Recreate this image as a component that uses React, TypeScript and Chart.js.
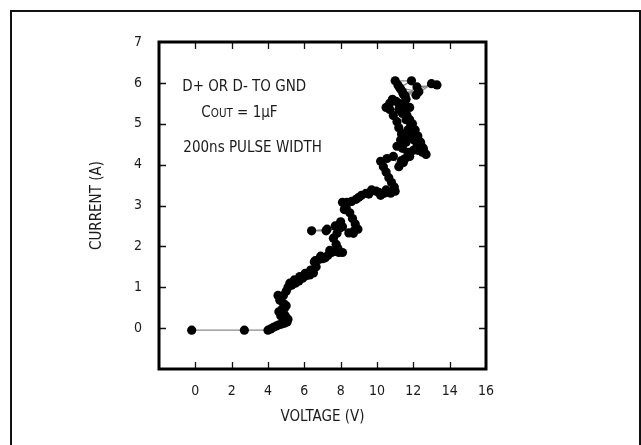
import React, { useEffect, useRef } from "react";
import { Chart, registerables } from "chart.js";

Chart.register(...registerables);

// Measured points (VOLTAGE in V, CURRENT in A), in trace order
const voltage: number[] = [
  -0.2, 2.7, 4.0, 4.15, 4.3, 4.45, 4.6, 4.75, 4.9, 5.05,
  5.1, 4.95, 4.85, 4.7, 4.6, 4.75, 4.9, 5.0, 4.85, 4.65,
  4.55, 4.7, 4.85, 5.0, 5.1, 5.3, 5.5, 5.7, 5.9, 6.1,
  6.3, 6.5, 6.65, 6.6, 6.8, 7.0, 7.15, 7.3, 7.5, 7.7,
  7.9, 8.1, 7.75, 7.6, 7.8, 7.95, 7.2, 6.4, 7.25, 7.7,
  8.1, 8.45, 8.75, 8.95, 8.8, 8.65, 8.5, 8.3, 8.1, 8.35,
  8.6, 8.85, 9.15, 9.4, 9.7, 9.95, 10.2, 10.5, 10.75, 10.95,
  10.8, 10.65, 10.5, 10.35, 10.2, 10.55, 10.9, 11.2, 11.35, 11.55,
  11.8, 12.0, 12.25, 12.5, 12.7, 12.55, 12.4, 12.25, 12.1, 11.95,
  11.8, 11.65, 11.5, 11.35, 11.2, 11.05, 10.85, 10.7, 10.5, 10.7,
  10.9, 11.1, 11.2, 11.35, 11.3, 11.1, 11.4, 11.6, 11.5, 11.7,
  11.85, 12.05, 12.2, 12.4, 12.6, 12.35, 12.1, 11.85, 11.6, 11.4,
  11.2, 11.5, 11.8, 11.6, 11.45, 11.3, 11.15, 11.0, 11.9, 11.25,
  12.3, 11.4, 12.15, 13.0, 11.55, 12.2, 13.3,
  5.2, 5.45, 5.75, 6.05, 6.35, 6.55, 6.9, 7.4, 7.85, 8.0,
  8.2, 8.7, 9.0, 9.55, 10.1, 10.4, 11.0, 11.45, 11.7, 12.45,
];
const current: number[] = [
  -0.05, -0.05, -0.05, -0.02, 0.02, 0.05, 0.08, 0.1, 0.12, 0.15,
  0.22, 0.3, 0.2, 0.3, 0.4, 0.45, 0.48, 0.55, 0.6, 0.68,
  0.8, 0.75, 0.8, 0.9, 1.0, 1.05, 1.1, 1.15, 1.22, 1.28,
  1.3, 1.35, 1.5, 1.65, 1.68, 1.7, 1.72, 1.78, 1.85, 1.88,
  1.85, 1.85, 2.05, 2.2, 2.32, 2.45, 2.38, 2.38, 2.42, 2.5,
  2.48, 2.33, 2.38, 2.42, 2.55, 2.68, 2.82, 2.96, 3.08, 3.08,
  3.1, 3.15, 3.25, 3.3, 3.38, 3.35, 3.25, 3.38, 3.3, 3.45,
  3.56, 3.68, 3.82, 3.95, 4.08, 4.15, 4.2, 3.95, 4.1, 4.15,
  4.2, 4.35, 4.35, 4.3, 4.25, 4.4, 4.55, 4.7, 4.85, 5.0,
  5.1, 5.2, 5.3, 5.4, 5.5, 5.55, 5.6, 5.5, 5.4, 5.35,
  5.2, 5.05, 4.9, 4.75, 4.6, 4.45, 4.4, 4.55, 4.75, 4.85,
  4.65, 4.6, 4.45, 4.35, 4.3, 4.5, 4.75, 4.95, 5.1, 5.25,
  5.35, 5.45, 5.4, 5.6, 5.72, 5.85, 5.95, 6.05, 6.05, 5.88,
  5.78, 5.78, 5.7, 5.98, 5.68, 5.9, 5.95,
  1.1, 1.18, 1.26, 1.34, 1.42, 1.62, 1.76, 1.9, 1.95, 2.6,
  2.9, 2.32, 3.2, 3.28, 3.32, 3.3, 3.35, 4.05, 4.3, 4.45,
];

const xTickValues: number[] = [0, 2, 4, 6, 8, 10, 12, 14, 16];
const yTickValues: number[] = [0, 1, 2, 3, 4, 5, 6, 7];
const xTitle = "VOLTAGE (V)";
const yTitle = "CURRENT (A)";
const noteLine1 = "D+ OR D- TO GND";
const noteCout = ["C", "OUT", " = 1\u03BCF"];
const noteLine3 = "200ns PULSE WIDTH";

const FONT = "'Liberation Sans Narrow', 'DejaVu Sans Condensed', 'Arial Narrow', sans-serif";
const INK = "#1a1a1a";

const framePlugin = {
  id: "frame",
  beforeDraw(chart: any) {
    const { ctx } = chart;
    ctx.save();
    ctx.fillStyle = "#ffffff";
    ctx.fillRect(0, 0, chart.width, chart.height);
    ctx.strokeStyle = "#111";
    ctx.lineWidth = 2;
    ctx.strokeRect(11, 11, chart.width - 12, chart.height + 20);
    ctx.restore();
  },
  afterDraw(chart: any) {
    const { ctx, chartArea: a, scales } = chart;
    const xs = scales.x;
    const ys = scales.y;
    ctx.save();
    // inner ticks
    ctx.strokeStyle = "#111";
    ctx.lineWidth = 1.3;
    ctx.beginPath();
    xTickValues.forEach((v) => {
      if (v <= xs.min || v >= xs.max) return;
      const px = Math.round(xs.getPixelForValue(v)) + 0.5;
      ctx.moveTo(px, a.top);
      ctx.lineTo(px, a.top + 7);
      ctx.moveTo(px, a.bottom);
      ctx.lineTo(px, a.bottom - 7);
    });
    yTickValues.forEach((v) => {
      if (v <= ys.min || v >= ys.max) return;
      const py = Math.round(ys.getPixelForValue(v)) + 0.5;
      ctx.moveTo(a.left, py);
      ctx.lineTo(a.left + 7, py);
      ctx.moveTo(a.right, py);
      ctx.lineTo(a.right - 7, py);
    });
    ctx.stroke();
    // plot box
    ctx.strokeStyle = "#000";
    ctx.lineWidth = 3;
    ctx.strokeRect(a.left, a.top, a.right - a.left, a.bottom - a.top);

    // annotations
    ctx.fillStyle = INK;
    ctx.textBaseline = "middle";
    ctx.textAlign = "left";
    ctx.font = `15px ${FONT}`;
    ctx.fillText(noteLine1, xs.getPixelForValue(-0.72), ys.getPixelForValue(5.9));
    ctx.fillText(noteLine3, xs.getPixelForValue(-0.66), ys.getPixelForValue(4.41));
    // C_OUT = 1uF
    ctx.textBaseline = "alphabetic";
    let cx = xs.getPixelForValue(0.33);
    const cy = ys.getPixelForValue(5.3) + 5.5;
    ctx.font = `15px ${FONT}`;
    ctx.fillText(noteCout[0], cx, cy);
    cx += ctx.measureText(noteCout[0]).width;
    ctx.font = `11.5px ${FONT}`;
    ctx.fillText(noteCout[1], cx, cy);
    cx += ctx.measureText(noteCout[1]).width;
    ctx.font = `15px ${FONT}`;
    ctx.fillText(noteCout[2], cx, cy);
    ctx.restore();
  },
};

export default function App() {
  const canvasRef = useRef<HTMLCanvasElement | null>(null);

  useEffect(() => {
    if (!canvasRef.current) return;
    const mainCount = 137;
    const trace = voltage.slice(0, mainCount).map((v, i) => ({ x: v, y: current[i] }));
    const extra = voltage.slice(mainCount).map((v, i) => ({ x: v, y: current[mainCount + i] }));
    const chart = new Chart(canvasRef.current, {
      type: "scatter",
      data: {
        datasets: [
          {
            data: trace,
            showLine: true,
            borderColor: "#8a8a8a",
            borderWidth: 1.3,
            pointRadius: 4.6,
            pointBackgroundColor: "#000",
            pointBorderWidth: 0,
            pointHoverRadius: 4.6,
          },
          {
            data: extra,
            showLine: false,
            pointRadius: 4.6,
            pointBackgroundColor: "#000",
            pointBorderWidth: 0,
            pointHoverRadius: 4.6,
          },
        ],
      },
      options: {
        animation: false,
        responsive: true,
        maintainAspectRatio: false,
        events: [],
        layout: { padding: { left: 88, right: 155, top: 42, bottom: 0 } },
        plugins: { legend: { display: false }, tooltip: { enabled: false } },
        scales: {
          x: {
            type: "linear",
            min: -2,
            max: 16,
            afterFit: (s: any) => {
              s.height = 76;
            },
            afterBuildTicks: (s: any) => {
              s.ticks = xTickValues.map((v) => ({ value: v }));
            },
            grid: { display: false, drawTicks: false },
            border: { display: false },
            ticks: {
              padding: 14,
              color: INK,
              font: { family: FONT, size: 14 },
              maxRotation: 0,
              autoSkip: false,
            },
            title: {
              display: true,
              text: xTitle,
              color: INK,
              font: { family: FONT, size: 15 },
              padding: { top: 0, bottom: 19 },
            },
          },
          y: {
            type: "linear",
            min: -1,
            max: 7,
            afterFit: (s: any) => {
              s.width = 71;
            },
            afterBuildTicks: (s: any) => {
              s.ticks = yTickValues.map((v) => ({ value: v }));
            },
            grid: { display: false, drawTicks: false },
            border: { display: false },
            ticks: {
              padding: 17,
              color: INK,
              font: { family: FONT, size: 14 },
              autoSkip: false,
            },
            title: {
              display: true,
              text: yTitle,
              color: INK,
              font: { family: FONT, size: 15 },
              padding: { top: 0, bottom: 0 },
            },
          },
        },
      },
      plugins: [framePlugin],
    });
    return () => chart.destroy();
  }, []);

  return (
    <div style={{ position: "fixed", left: 0, top: 0, width: 641, height: 445, background: "#fff" }}>
      <canvas ref={canvasRef} />
    </div>
  );
}
